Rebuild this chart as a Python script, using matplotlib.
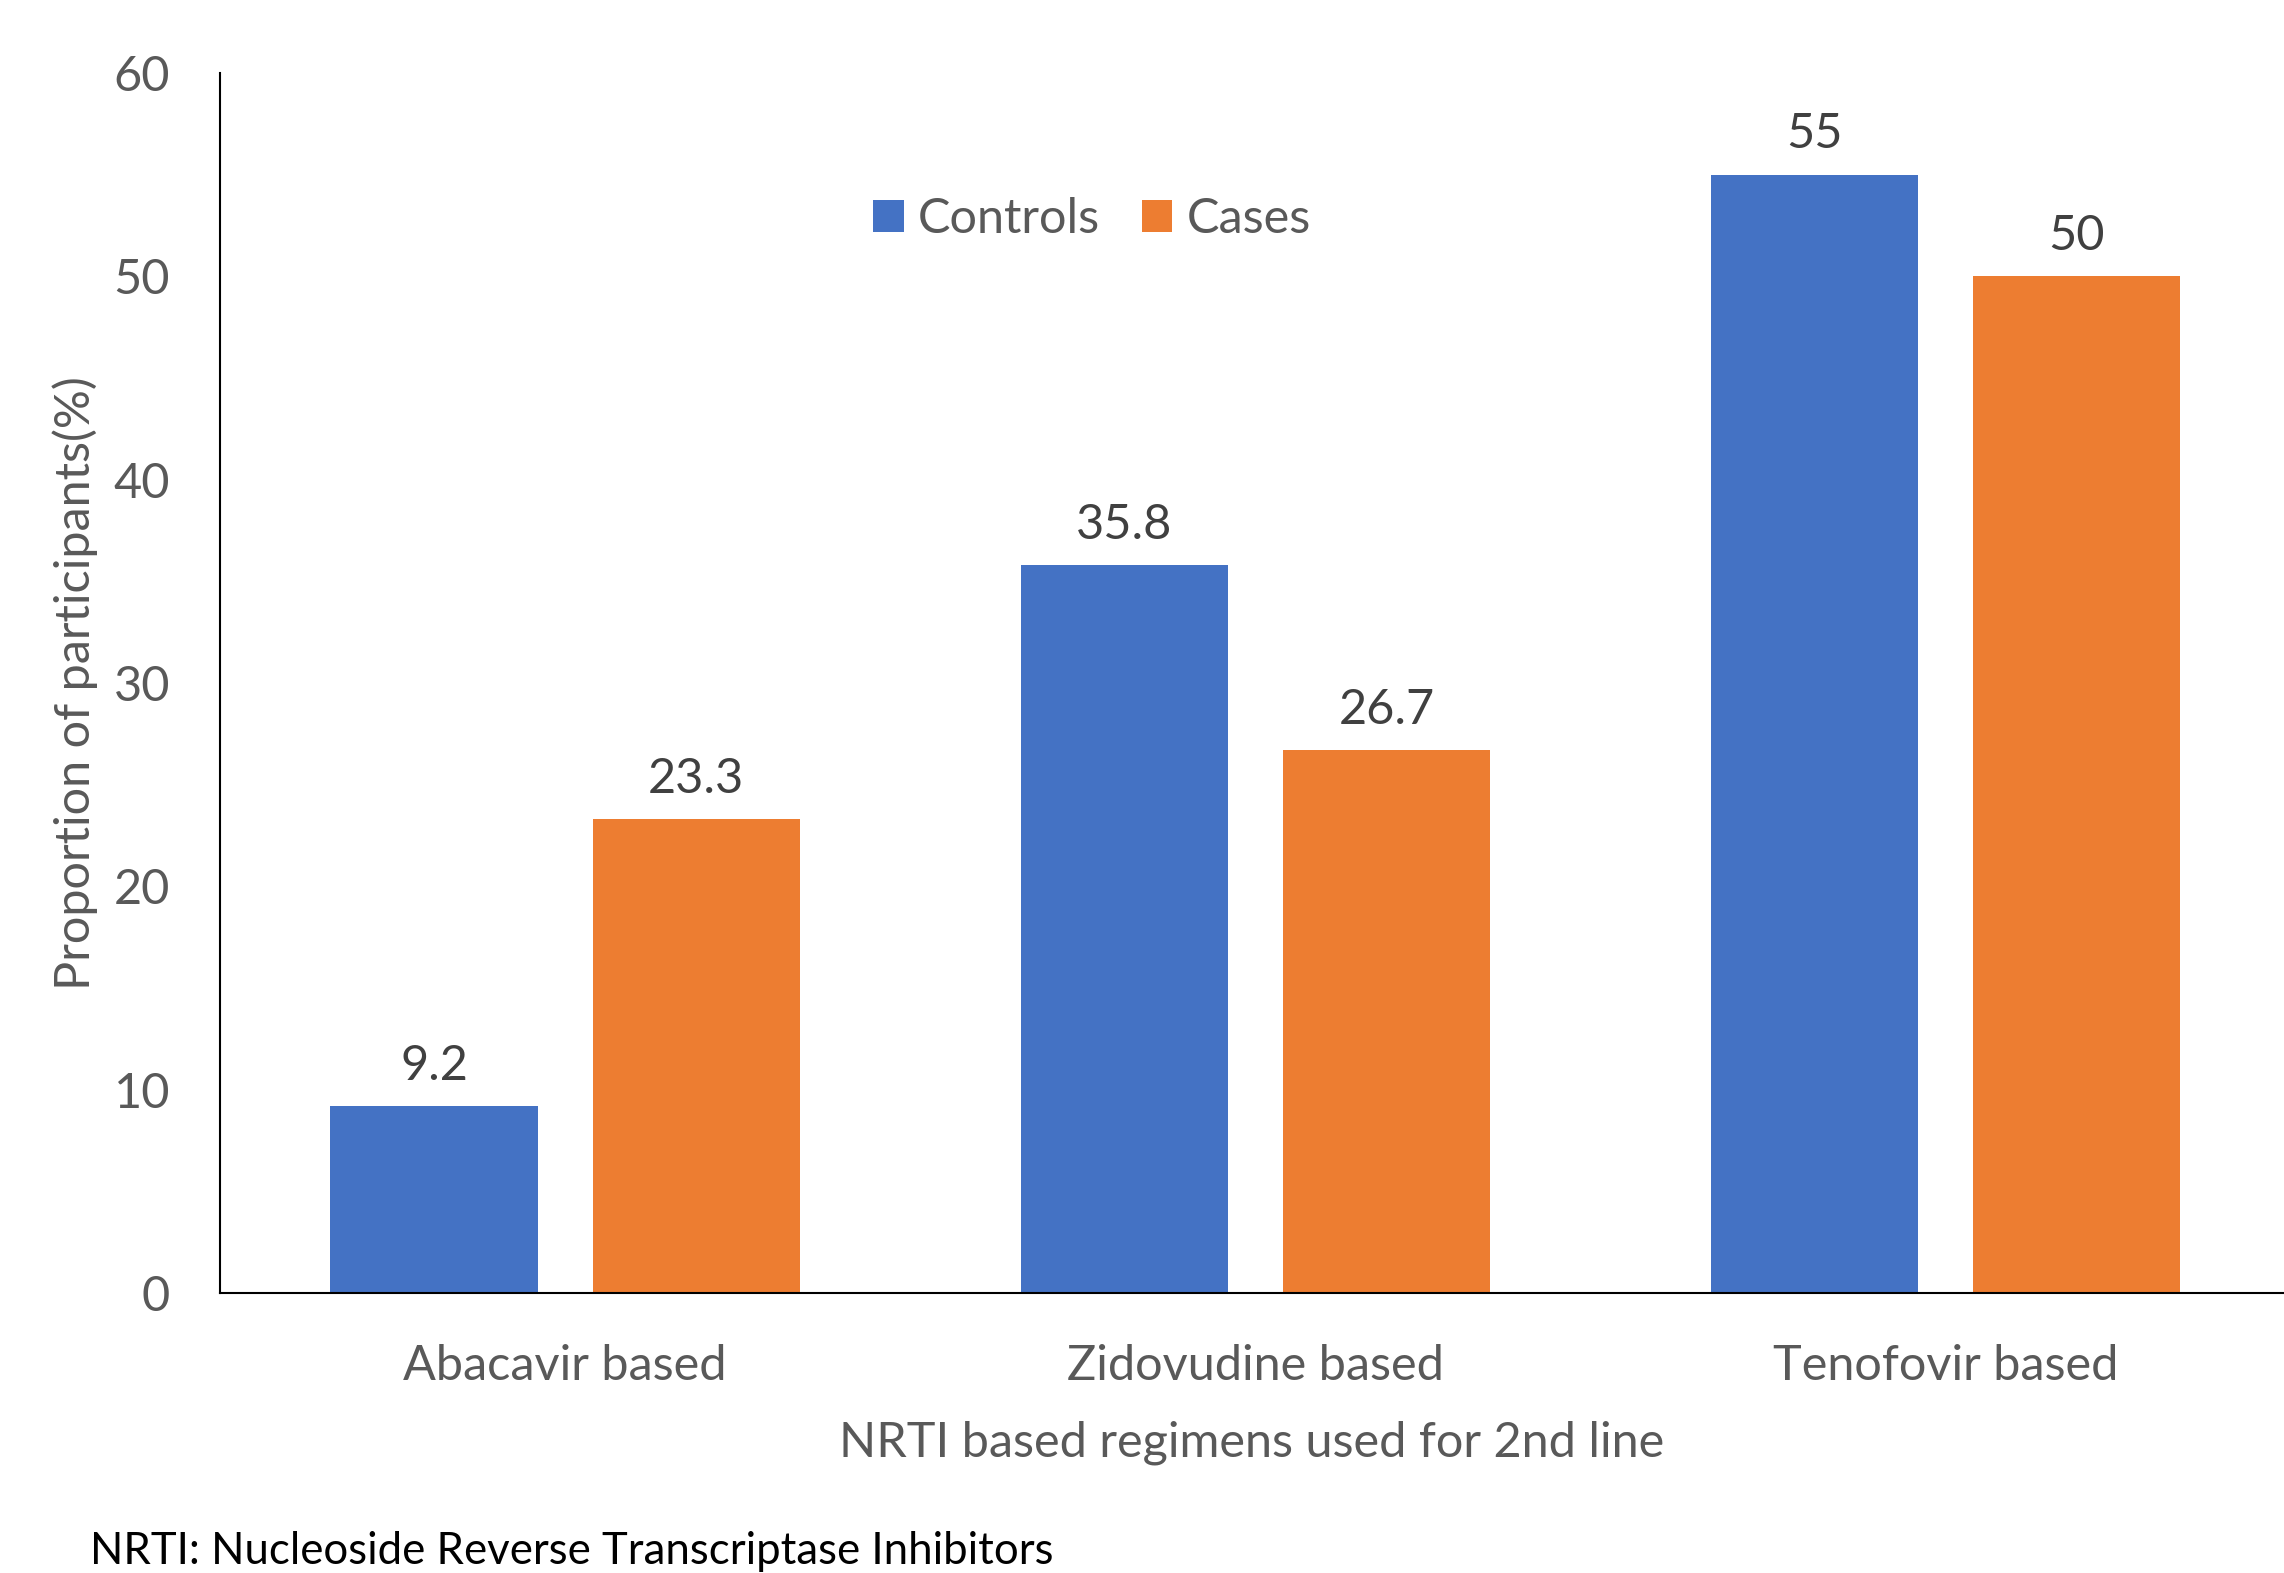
import matplotlib.pyplot as plt
import numpy as np

plt.rcParams['font.family'] = ['Lato', 'DejaVu Sans']

regimens = ['Abacavir based', 'Zidovudine based', 'Tenofovir based']
controls = [9.2, 35.8, 55]
cases = [23.3, 26.7, 50]
yticks = [0, 10, 20, 30, 40, 50, 60]

blue = '#4472C4'
orange = '#ED7D31'
grey = '#595959'

fig = plt.figure(figsize=(22.84, 15.73), dpi=100)
ax = fig.add_axes([220 / 2284, 1 - 1293 / 1573, 1 - 220 / 2284, (1293 - 73) / 1573])

x = np.arange(len(regimens))
w = 0.30
off = 0.19
b1 = ax.bar(x - off, controls, w, color=blue, label='Controls')
b2 = ax.bar(x + off, cases, w, color=orange, label='Cases')

for bars, vals in [(b1, controls), (b2, cases)]:
    for rect, v in zip(bars, vals):
        ax.annotate('{:g}'.format(v), (rect.get_x() + rect.get_width() / 2, v),
                    xytext=(0, 29), textcoords='offset points',
                    ha='center', va='center', fontsize=35, color='#404040')

ax.set_xlim(-0.5, 2.49)
ax.set_ylim(0, 60)
ax.set_yticks(yticks)
ax.set_xticks(x)
ax.set_xticklabels(regimens)
ax.tick_params(axis='both', length=0, labelsize=35, colors=grey)
ax.tick_params(axis='y', pad=36)
ax.tick_params(axis='x', pad=37)

for s in ['top', 'right']:
    ax.spines[s].set_visible(False)
ax.spines['left'].set_linewidth(1.5)
ax.spines['bottom'].set_linewidth(1.5)

ax.set_ylabel('Proportion of participants(%)', fontsize=35, color=grey, labelpad=11)
ax.set_xlabel('NRTI based regimens used for 2nd line', fontsize=35, color=grey, labelpad=23)

ax.legend(loc='center', bbox_to_anchor=(1092 / 2284, 1 - 219 / 1573),
          bbox_transform=fig.transFigure, ncol=2, frameon=False, fontsize=35,
          labelcolor=grey, handlelength=0.62, handleheight=0.62, handletextpad=0.3,
          columnspacing=0.85)

fig.text(90 / 2284, 1 - 1552 / 1573, 'NRTI: Nucleoside Reverse Transcriptase Inhibitors',
         fontsize=31.5, color='black', va='center', ha='left')

fig.savefig('out.png', dpi=100)
